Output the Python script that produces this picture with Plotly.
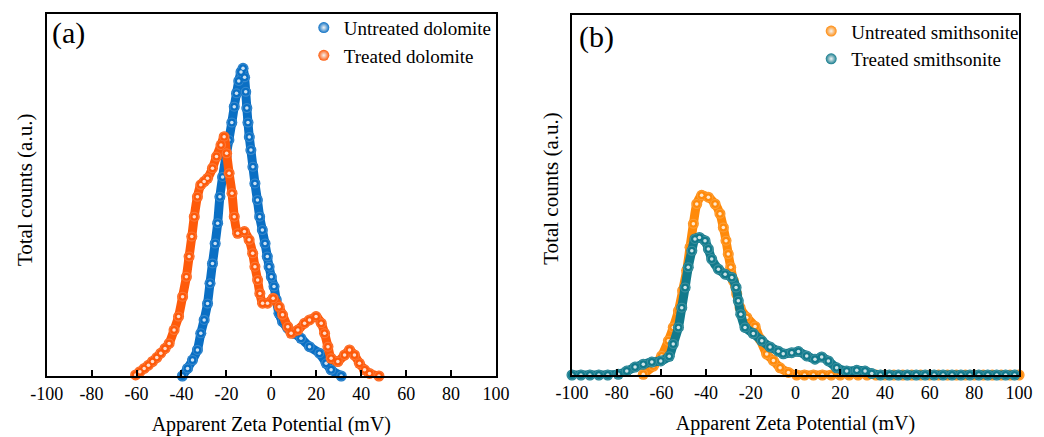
import plotly.graph_objects as go

# ---- Zeta potential distributions (mV vs. relative counts) ----
# (a) dolomite
dol_untreated_mv = [-39.6, -37.3, -35.1, -32.9, -31.4, -29.9, -28.4, -27.3, -26.2, -25.0,
                    -23.9, -22.9, -21.7, -20.2, -18.9, -17.6, -16.5, -15.5, -14.5, -13.5,
                    -12.6, -11.9, -11.4, -10.9, -10.4, -9.8, -9.1, -8.2, -7.3, -6.2,
                    -5.2, -4.0, -2.8, -1.8, -1.0, 0.0, 1.2, 2.2, 3.4, 5.0,
                    7.3, 10.2, 13.2, 17.0, 21.4, 24.4, 26.6, 31.1]
dol_untreated_cnt = [0.0, 2.1, 4.4, 7.2, 11.8, 15.5, 20.0, 25.6, 31.1, 36.6,
                     42.2, 49.5, 55.0, 60.6, 65.2, 70.0, 74.4, 78.1, 81.5, 84.0,
                     85.0, 82.5, 78.5, 74.0, 70.0, 66.0, 62.4, 57.8, 53.2, 48.6,
                     44.0, 40.3, 36.6, 33.0, 30.2, 27.4, 24.7, 21.0, 17.3, 15.0,
                     13.2, 11.8, 10.4, 8.1, 6.3, 3.5, 1.7, 0.0]

dol_treated_mv = [-60.4, -58.5, -56.6, -54.7, -52.9, -51.0, -49.2, -47.3, -45.5, -43.3,
                  -41.3, -39.5, -37.8, -36.6, -35.4, -34.3, -32.9, -31.4, -29.9, -28.4,
                  -26.2, -24.4, -22.4, -21.0, -19.9, -18.8, -17.5, -16.5, -15.0, -12.0,
                  -9.9, -8.3, -7.3, -6.1, -5.1, -3.9, -1.7, 0.8, 3.5, 5.0,
                  7.3, 8.8, 11.8, 14.8, 17.0, 19.9, 22.2, 23.7, 25.2, 26.6,
                  29.6, 32.6, 34.8, 37.0, 39.2, 41.5, 43.7, 47.9]
dol_treated_cnt = [0.3, 1.2, 2.1, 3.0, 4.0, 5.1, 6.3, 7.6, 9.0, 12.7,
                   16.4, 21.9, 27.4, 33.0, 38.5, 44.0, 49.5, 52.8, 53.7, 54.6,
                   57.4, 60.6, 63.8, 66.1, 61.5, 56.0, 50.5, 44.0, 39.4, 39.9,
                   37.6, 33.9, 30.2, 26.5, 22.8, 20.1, 20.1, 21.5, 19.1, 16.9,
                   13.6, 11.8, 12.7, 14.6, 15.5, 16.4, 14.6, 11.8, 8.1, 4.9,
                   4.0, 5.8, 7.2, 5.8, 3.5, 1.7, 0.7, 0.0]

# (b) smithsonite
smi_untreated_mv = [-68.1, -63.6, -59.9, -56.9, -54.7, -52.4, -50.5, -48.7, -47.2, -45.7,
                    -44.2, -42.0, -39.0, -36.0, -33.8, -32.3, -31.1, -30.1, -29.0, -27.8,
                    -26.3, -24.8, -21.8, -18.1, -15.9, -12.9, -9.9, -6.9, -3.2, 0.5,
                    4, 8, 12, 16, 20, 24, 28, 32, 36, 40, 44, 48, 52, 56, 60, 64,
                    68, 72, 76, 80, 84, 88, 92, 96, 100]
smi_untreated_cnt = [0.2, 2.5, 5.3, 9.5, 13.2, 17.8, 23.4, 29.0, 35.5, 42.0,
                     47.5, 49.9, 49.4, 47.5, 44.8, 41.0, 37.3, 33.6, 29.9, 26.2,
                     22.5, 18.7, 16.0, 13.5, 10.0, 5.8, 4.0, 2.0, 0.7, 0.0,
                     0, 0, 0, 0, 0, 0, 0, 0, 0, 0, 0, 0, 0, 0, 0, 0,
                     0, 0, 0, 0, 0, 0, 0, 0, 0]

smi_treated_mv = [-100, -96, -92, -88, -84, -79.3, -75.5, -71.8, -68.1, -64.3,
                  -60.3, -56.5, -54.7, -52.4, -50.9, -49.4, -48.0, -46.4, -45.0, -43.0,
                  -40.5, -39.0, -37.5, -34.5, -31.5, -28.5, -26.6, -25.6, -24.5, -22.6,
                  -18.9, -15.1, -11.4, -7.7, -5.5, -1.7, 1.3, 5.0, 8.7, 11.7,
                  14.7, 18.4, 22.9, 27.4, 31.1, 34.1, 38, 42, 46, 50, 54, 58,
                  62, 66, 70, 74, 78, 82, 86, 90, 94, 98]
smi_treated_cnt = [0, 0, 0, 0, 0, 0.2, 1.1, 2.2, 3.0, 3.6,
                   3.9, 5.2, 8.6, 13.2, 18.7, 24.3, 29.9, 34.5, 37.8, 38.2,
                   37.3, 35.0, 32.2, 29.4, 28.0, 27.1, 24.3, 20.6, 16.9, 13.2,
                   11.5, 9.5, 7.8, 6.6, 5.9, 6.2, 6.5, 5.3, 4.4, 5.0,
                   3.9, 2.0, 1.1, 1.3, 1.1, 0.4, 0, 0, 0, 0, 0, 0,
                   0, 0, 0, 0, 0, 0, 0, 0, 0, 0]

x_ticks = [-100, -80, -60, -40, -20, 0, 20, 40, 60, 80, 100]
x_tick_text = ["-100", "-80", "-60", "-40", "-20", "0", "20", "40", "60", "80", "100"]

SERIF = "Liberation Serif"

series = [
    # name, x, y, colour, axes, legend
    ("Untreated dolomite", dol_untreated_mv, dol_untreated_cnt, "#0a6fc4", ("x", "y"), "legend"),
    ("Treated dolomite", dol_treated_mv, dol_treated_cnt, "#fe5a0a", ("x", "y"), "legend"),
    ("Untreated smithsonite", smi_untreated_mv, smi_untreated_cnt, "#ff8a0a", ("x2", "y2"), "legend2"),
    ("Treated smithsonite", smi_treated_mv, smi_treated_cnt, "#127a8c", ("x2", "y2"), "legend2"),
]

fig = go.Figure()
for name, xs, ys, color, (xa, ya), leg in series:
    # continuous chain under the beads
    fig.add_trace(go.Scatter(
        x=xs, y=ys, mode="lines", xaxis=xa, yaxis=ya,
        line=dict(color=color, width=9, shape="spline", smoothing=0.6),
        showlegend=False, hoverinfo="skip", cliponaxis=False,
    ))
    # beads
    fig.add_trace(go.Scatter(
        x=xs, y=ys, mode="markers", name=name, xaxis=xa, yaxis=ya, legend=leg,
        marker=dict(size=11, color=color, line=dict(width=0),
                    gradient=dict(type="radial", color="#f4f4f4")),
        cliponaxis=False,
    ))
    # glossy highlight in each bead
    fig.add_trace(go.Scatter(
        x=xs, y=ys, mode="markers", xaxis=xa, yaxis=ya,
        marker=dict(size=8, color=color, line=dict(width=0)),
        showlegend=False, hoverinfo="skip", cliponaxis=False,
    ))
    fig.add_trace(go.Scatter(
        x=xs, y=ys, mode="markers", xaxis=xa, yaxis=ya,
        marker=dict(size=3.5, color="rgba(255,255,255,0.8)", line=dict(width=0)),
        showlegend=False, hoverinfo="skip", cliponaxis=False,
    ))

axis_common = dict(
    range=[-100, 100], tickmode="array", tickvals=x_ticks, ticktext=x_tick_text,
    ticks="inside", ticklen=6, tickwidth=2, tickcolor="black",
    showline=True, linecolor="black", linewidth=2, mirror=True,
    showgrid=False, zeroline=False, automargin=False,
    tickfont=dict(family=SERIF, size=18, color="black"),
    title=dict(text="Apparent Zeta Potential (mV)",
               font=dict(family=SERIF, size=20, color="black"), standoff=14),
)
yaxis_common = dict(
    range=[0, 100], showticklabels=False, ticks="",
    showline=True, linecolor="black", linewidth=2, mirror=True,
    showgrid=False, zeroline=False, automargin=False,
)

legend_common = dict(
    font=dict(family=SERIF, size=19, color="black"),
    bgcolor="rgba(0,0,0,0)", borderwidth=0,
    xanchor="left", yanchor="top", tracegroupgap=0, itemwidth=30,
)

ytitle_font = dict(family=SERIF, size=21, color="black")

fig.update_layout(
    width=1044, height=437,
    margin=dict(l=0, r=0, t=0, b=0, autoexpand=False),
    paper_bgcolor="white", plot_bgcolor="white",
    font=dict(family=SERIF, color="black"),
    xaxis=dict(domain=[0.0447, 0.4751], anchor="y", **axis_common),
    yaxis=dict(domain=[0.1396, 0.968], anchor="x", **yaxis_common),
    xaxis2=dict(domain=[0.5479, 0.9761], anchor="y2", **axis_common),
    yaxis2=dict(domain=[0.1419, 0.9657], anchor="x2", **yaxis_common),
    legend=dict(x=0.291, y=0.980, **legend_common),
    legend2=dict(x=0.777, y=0.972, **legend_common),
    annotations=[
        dict(text="Total counts (a.u.)", x=25 / 1044, y=0.565, xref="paper", yref="paper",
             textangle=-90, xanchor="center", yanchor="middle", showarrow=False,
             font=ytitle_font),
        dict(text="Total counts (a.u.)", x=551 / 1044, y=0.568, xref="paper", yref="paper",
             textangle=-90, xanchor="center", yanchor="middle", showarrow=False,
             font=ytitle_font),
        dict(text="(a)", x=0.048, y=0.925, xref="paper", yref="paper",
             xanchor="left", yanchor="middle", showarrow=False,
             font=dict(family=SERIF, size=30, color="black")),
        dict(text="(b)", x=0.553, y=0.915, xref="paper", yref="paper",
             xanchor="left", yanchor="middle", showarrow=False,
             font=dict(family=SERIF, size=30, color="black")),
    ],
)

fig.write_html("out.html")
